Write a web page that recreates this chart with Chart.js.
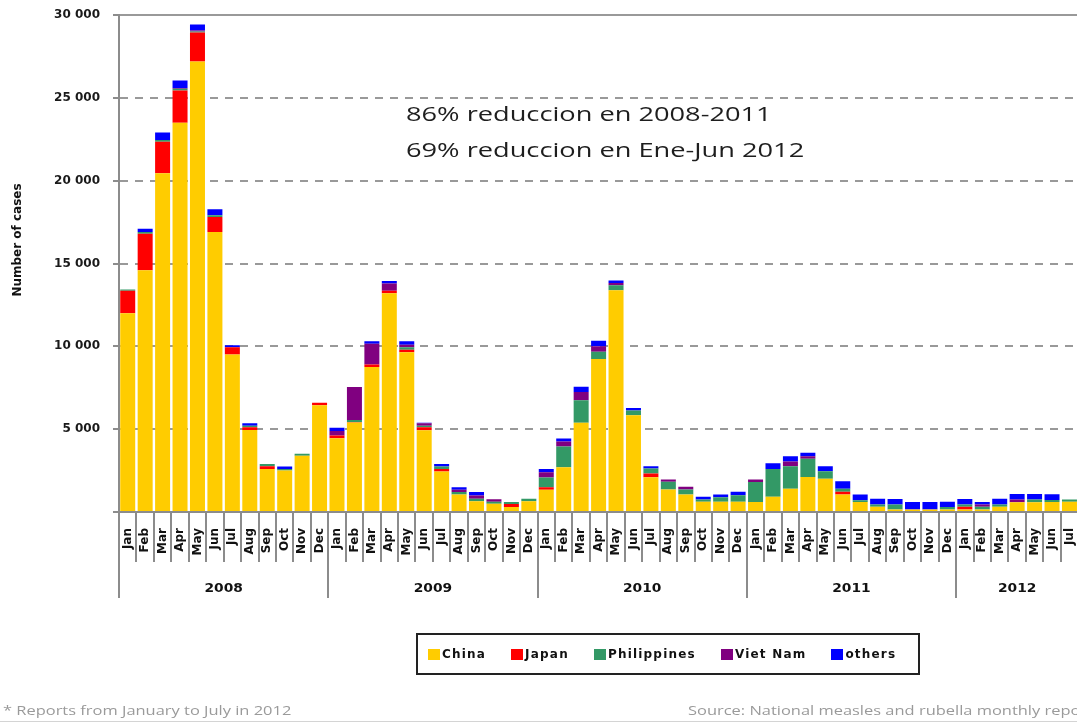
<!DOCTYPE html>
<html>
<head>
<meta charset="utf-8">
<title>Measles cases by month</title>
<script src="https://cdn.jsdelivr.net/npm/chart.js@4.4.1/dist/chart.umd.min.js"></script>
<style>
    html, body { margin: 0; padding: 0; background: #fff; width: 1077px; height: 724px; overflow: hidden; }
    #wrap { position: absolute; left: 0; top: 0; width: 1100px; height: 724px; }
    #legend {
        position: absolute; left: 416px; top: 633px; width: 490px; height: 38px;
        border: 2px solid #222; display: flex; align-items: center;
        padding-left: 10px; box-sizing: content-box; gap: 25px;
        font: bold 12px "DejaVu Sans", sans-serif; letter-spacing: 1.2px; color: #111;
    }
    #legend .item { display: flex; align-items: center; }
    #legend .swatch { width: 12px; height: 11px; margin-right: 2px; }
    .note {
        position: absolute; top: 702px; white-space: nowrap; color: #9a9a9a;
        font: 12px "Open Sans", sans-serif; transform: scaleX(1.37); transform-origin: left top;
    }
    #rule { position: absolute; left: 0; top: 721px; width: 1077px; height: 1px; background: #d4d4d4; }
</style>
</head>
<body>
<div id="wrap"><canvas id="cases"></canvas></div>
<div id="legend"></div>
<div class="note" style="left:3px">* Reports from January to July in 2012</div>
<div class="note" style="left:688px">Source: National measles and rubella monthly report</div>
<div id="rule"></div>
<script>
const MONTHS = ['Jan', 'Feb', 'Mar', 'Apr', 'May', 'Jun', 'Jul', 'Aug', 'Sep', 'Oct', 'Nov', 'Dec'];
const YEARS = ['2008', '2009', '2010', '2011', '2012'];
const MONTHS_IN_2012 = 7; // reports only run January to July 2012

const SERIES = ['China', 'Japan', 'Philippines', 'Viet Nam', 'others'];
const COLORS = ['#FFCC00', '#FF0000', '#339966', '#800080', '#0000FF'];

// monthly cases, Jan 2008 .. Jul 2012
const china = [
    12000, 14600, 20450, 23500, 27200, 16900, 9500, 4950, 2600, 2500, 3400, 6450,
    4450, 5400, 8750, 13200, 9650, 4930, 2450, 1050, 650, 500, 300, 650,
    1350, 2700, 5380, 9240, 13380, 5840, 2100, 1360, 1060, 620, 620, 620,
    610, 920, 1400, 2120, 2000, 1060, 610, 320, 150, 150, 150, 150,
    150, 150, 320, 590, 590, 600, 620
];
const japan = [
    1350, 2200, 1900, 1950, 1750, 900, 450, 160, 160, 0, 0, 150,
    170, 40, 150, 150, 150, 180, 150, 0, 0, 0, 180, 0,
    150, 0, 0, 0, 0, 0, 220, 0, 0, 0, 0, 0,
    0, 0, 0, 0, 0, 160, 0, 0, 0, 0, 0, 0,
    160, 0, 0, 0, 0, 0, 0
];
const philippines = [
    80, 100, 100, 100, 60, 120, 0, 100, 130, 100, 120, 0,
    0, 110, 0, 0, 150, 100, 150, 150, 150, 120, 120, 150,
    580, 1250, 1360, 440, 300, 280, 300, 460, 300, 130, 270, 390,
    1200, 1680, 1360, 1090, 460, 180, 100, 140, 300, 0, 0, 150,
    140, 160, 140, 0, 160, 130, 130
];
const vietNam = [
    0, 0, 0, 50, 60, 0, 0, 0, 0, 0, 0, 0,
    270, 2000, 1250, 450, 150, 150, 0, 150, 200, 150, 0, 0,
    320, 300, 500, 320, 140, 0, 0, 140, 160, 0, 0, 0,
    150, 0, 290, 160, 0, 0, 0, 0, 0, 0, 0, 0,
    0, 140, 0, 160, 0, 0, 0
];
const others = [
    0, 200, 450, 450, 350, 350, 120, 150, 0, 150, 0, 0,
    200, 0, 150, 150, 200, 20, 150, 150, 200, 0, 0, 0,
    200, 180, 320, 340, 160, 160, 140, 0, 0, 170, 170, 210,
    0, 340, 320, 200, 300, 460, 350, 340, 340, 460, 460, 320,
    340, 160, 340, 340, 340, 340, 0
];

const NOTES = ['86% reduccion en 2008-2011', '69% reduccion en Ene-Jun 2012'];

// one label per month, year after year
const monthLabels = [];
YEARS.forEach((y, i) => {
    const n = i === YEARS.length - 1 ? MONTHS_IN_2012 : 12;
    for (let m = 0; m < n; m++) monthLabels.push(MONTHS[m]);
});

const values = [china, japan, philippines, vietNam, others];

function thousands(v) {
    return String(v).replace(/\B(?=(\d{3})+(?!\d))/g, ' ');
}

// text that is a bit wider than the font draws it
function wideText(ctx, text, x, y, font, sx, align) {
    ctx.save();
    ctx.font = font;
    ctx.textAlign = align || 'left';
    ctx.translate(x, y);
    ctx.scale(sx, 1);
    ctx.fillText(text, 0, 0);
    ctx.restore();
}

function vline(ctx, x, y1, y2) {
    ctx.beginPath();
    ctx.moveTo(x, y1);
    ctx.lineTo(x, y2);
    ctx.stroke();
}

const extras = {
    id: 'extras',
    afterDraw(chart) {
        const { ctx, scales: { x, y } } = chart;
        const half = (x.getPixelForValue(1) - x.getPixelForValue(0)) / 2;

        ctx.save();
        ctx.strokeStyle = '#8c8c8c';
        ctx.lineWidth = 2;

        // tick marks between months
        for (let i = 0; i <= monthLabels.length; i++) {
            const px = Math.round(x.getPixelForValue(0) - half + i * 2 * half);
            vline(ctx, px, x.top, x.top + 50);
        }
        // tick marks left of the value axis
        y.ticks.forEach(t => {
            const py = Math.round(y.getPixelForValue(t.value));
            ctx.beginPath();
            ctx.moveTo(y.right - 6, py);
            ctx.lineTo(y.right, py);
            ctx.stroke();
        });

        // year separators and year names under the months
        ctx.fillStyle = '#111';
        ctx.textBaseline = 'middle';
        let start = 0;
        YEARS.forEach((year, i) => {
            const n = i === YEARS.length - 1 ? MONTHS_IN_2012 : 12;
            const left = x.getPixelForValue(start) - half;
            const right = x.getPixelForValue(start + n - 1) + half;
            vline(ctx, Math.round(left), x.top, x.top + 86);
            wideText(ctx, year, (left + right) / 2, x.top + 77, 'bold 12px "DejaVu Sans"', 1.15, 'center');
            start += n;
        });
        ctx.restore();

        // axis title
        ctx.save();
        ctx.fillStyle = '#111';
        ctx.font = 'bold 12px "DejaVu Sans"';
        ctx.textAlign = 'center';
        ctx.textBaseline = 'middle';
        ctx.translate(18, 240);
        ctx.rotate(-Math.PI / 2);
        ctx.fillText('Number of cases', 0, 0);
        ctx.restore();

        // reduction notes
        ctx.save();
        ctx.fillStyle = '#1e1e1e';
        ctx.textBaseline = 'alphabetic';
        wideText(ctx, NOTES[0], 406, 121, '20px "Open Sans"', 1.36);
        wideText(ctx, NOTES[1], 406, 157, '20px "Open Sans"', 1.36);
        ctx.restore();
    }
};

new Chart(document.getElementById('cases'), {
    type: 'bar',
    data: {
        labels: monthLabels,
        datasets: SERIES.map((name, i) => ({
            label: name,
            data: values[i],
            backgroundColor: COLORS[i],
            borderWidth: 0,
            barPercentage: 0.86,
            categoryPercentage: 1
        }))
    },
    options: {
        responsive: true,
        maintainAspectRatio: false,
        animation: false,
        devicePixelRatio: 1,
        layout: { padding: { top: 15, right: 15, bottom: 124, left: 0 } },
        plugins: {
            legend: { display: false },
            tooltip: { enabled: false }
        },
        scales: {
            x: {
                stacked: true,
                grid: { display: false, drawTicks: false },
                border: { display: true, color: '#8c8c8c', width: 2 },
                ticks: {
                    autoSkip: false,
                    minRotation: 90,
                    maxRotation: 90,
                    padding: 16,
                    color: '#111',
                    font: { family: 'DejaVu Sans', size: 12, weight: 'bold' }
                },
                afterFit(scale) { scale.height = 88; }
            },
            y: {
                stacked: true,
                min: 0,
                max: 30000,
                ticks: {
                    stepSize: 5000,
                    padding: 0,
                    color: '#1a1a1a',
                    font: { family: 'DejaVu Sans', size: 12, weight: 'bold' },
                    callback: v => v === 0 ? '' : thousands(v)
                },
                // tick marks are drawn by the plugin; the length here only spaces the labels
                grid: { color: '#999', lineWidth: 2, drawTicks: true, tickLength: 19, tickColor: 'rgba(0,0,0,0)' },
                border: {
                    display: true, color: '#8c8c8c', width: 2,
                    dash: c => (c.tick && c.tick.value > 0 && c.tick.value < 30000) ? [8, 7] : []
                },
                afterFit(scale) { scale.width = 119; }
            }
        }
    },
    plugins: [extras]
});

// legend box under the chart
const legend = document.getElementById('legend');
SERIES.forEach((name, i) => {
    const item = document.createElement('div');
    item.className = 'item';
    item.innerHTML = '<span class="swatch" style="background:' + COLORS[i] + '"></span>' + name;
    legend.appendChild(item);
});
</script>
</body>
</html>
